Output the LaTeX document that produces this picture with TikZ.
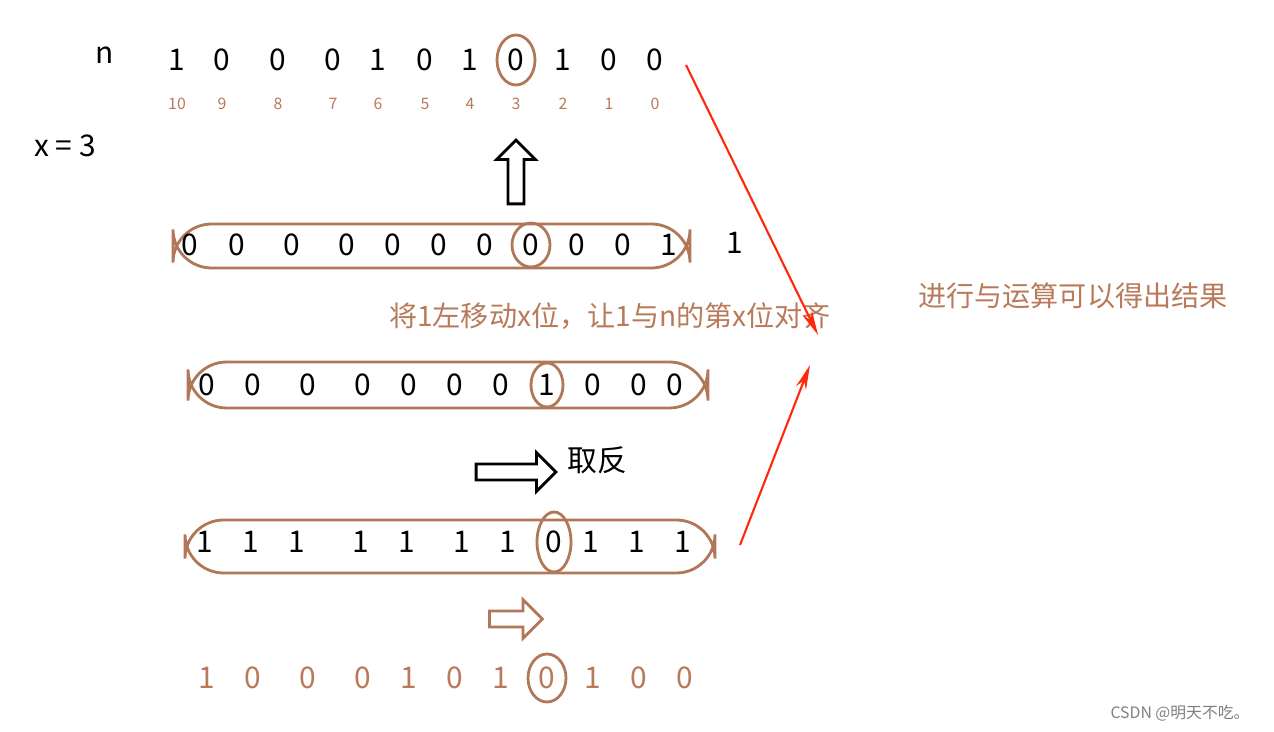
\documentclass[tikz,border=0pt]{standalone}
\usepackage{fontspec}
\setmainfont{Noto Sans CJK SC}
\usetikzlibrary{arrows.meta,positioning,shapes.arrows}
\definecolor{bitbrown}{RGB}{184,122,90}
\definecolor{ringbrown}{RGB}{176,120,88}
\definecolor{hintred}{RGB}{255,40,10}
\tikzset{
  bit/.style={font=\fontsize{17}{17}\selectfont, inner sep=0pt},
  idx/.style={font=\fontsize{9}{9}\selectfont, text=bitbrown, inner sep=0pt},
  row/.style={draw=ringbrown, line width=1.6pt, rounded corners=22pt},
  ring/.style={draw=ringbrown, line width=1.6pt},
  hollow/.style={single arrow, draw, line width=1.6pt, minimum width=22pt,
                 single arrow head extend=4pt, inner sep=2pt, shape border rotate=#1},
  hint/.style={hintred, line width=1.2pt, -{Stealth[length=14pt,width=6pt]}},
  note/.style={font=\fontsize{16}{16}\selectfont, text=bitbrown, inner sep=0pt},
}
\begin{document}
\begin{tikzpicture}[x=0.02cm, y=-0.02cm]
  \useasboundingbox (0,0) rectangle (1274,732);
  % value n and bit positions
  \node [bit] (n) at (105,55) {n};
  \node [bit] (x) at (65,146) {x = 3};
  \foreach \px/\b/\i [count=\k] in {177/1/10,222/0/9,278/0/8,333/0/7,378/1/6,425/0/5,470/1/4,516/0/3,563/1/2,609/0/1,655/0/0} {
    \node [bit] (n\k) at (\px,60) {\b};
    \node [idx] (i\k) at (\px,104) {\i};
  }
  \draw [ring] (n8) ellipse (19 and 25);
  % 1 before the shift
  \draw [row] (173,224) rectangle (690,268);
  \foreach \px/\b [count=\k] in {190/0,237/0,292/0,347/0,393/0,439/0,485/0,531/0,577/0,623/0,669/1}
    \node [bit] (a\k) at (\px,245) {\b};
  \node [bit] (one) at (735,243) {1};
  \draw [ring] (a8) ellipse (19 and 22);
  \node [note] (shift) at (610,316) {将1左移动x位，让1与n的第x位对齐};
  % 1 << x
  \draw [row] (188,362) rectangle (708,408);
  \foreach \px/\b [count=\k] in {207/0,253/0,308/0,363/0,409/0,455/0,501/0,547/1,593/0,639/0,675/0}
    \node [bit] (m\k) at (\px,385) {\b};
  \draw [ring] (m8) ellipse (16 and 22);
  % ~(1 << x)
  \draw [row] (185,520) rectangle (715,573);
  \foreach \px/\b [count=\k] in {205/1,251/1,297/1,361/1,407/1,462/1,508/1,554/0,591/1,637/1,683/1}
    \node [bit] (c\k) at (\px,542) {\b};
  \draw [ring] (c8) ellipse (17 and 30);
  \node [bit] (flip) at (597,460) {取反};
  % result
  \foreach \px/\b [count=\k] in {207/1,253/0,308/0,363/0,409/1,455/0,501/1,547/0,593/1,639/0,685/0}
    \node [bit, text=bitbrown] (r\k) at (\px,678) {\b};
  \draw [ring] (r8) ellipse (19 and 24);
  % hollow arrows
  \node [hollow=90, minimum height=64pt*0.567] (up) at (516,176) {};
  \node [hollow=-90, minimum height=80pt*0.567] (down) at (512,472) {};
  \node [hollow=-90, draw=ringbrown, minimum height=53pt*0.567] (res) at (512,619) {};
  % and-operation hints
  \coordinate (tipA) at (818,335);
  \coordinate (tipB) at (810,365);
  \coordinate (fromA) at (686,65);
  \coordinate (fromB) at (740,545);
  \draw [hint] (fromA) -- (tipA);
  \draw [hint] (fromB) -- (tipB);
  \node [note] (and) at (1073,296) {进行与运算可以得出结果};
  \node [font=\fontsize{9}{9}\selectfont, text=gray] (mark) at (1180,713) {CSDN @明天不吃。};
\end{tikzpicture}
\end{document}
